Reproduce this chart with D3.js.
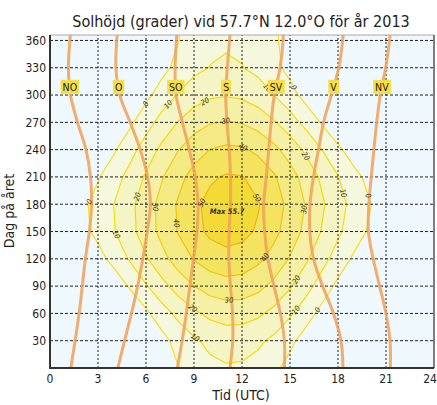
<!DOCTYPE html>
<html>
<head>
<meta charset="utf-8">
<script src="https://cdn.jsdelivr.net/npm/d3@7"></script>
<style>
  body { margin: 0; background: #fff; }
  text { font-family: "DejaVu Sans Condensed", "DejaVu Sans", sans-serif; }
</style>
</head>
<body>
<div id="chart"></div>
<script>
// sun elevation (degrees) sampled per hour (UTC) for every 30th day of the year
const gridDays = [0, 30, 60, 90, 120, 150, 180, 210, 240, 270, 300, 330, 360];
const gridHours = [0, 1, 2, 3, 4, 5, 6, 7, 8, 9, 10, 11, 12, 13, 14, 15, 16, 17, 18, 19, 20, 21, 22, 23, 24];
const elevation = [
  [-54.5, -50.5, -44.5, -37.2, -29.3, -21.3, -13.6, -6.5, -0.4, 4.4, 7.7, 9.1, 8.7, 6.3, 2.2, -3.4, -10.0, -17.5, -25.3, -33.3, -41.0, -47.8, -52.9, -55.3, -54.5],
  [-49.7, -46.5, -41.0, -34.1, -26.4, -18.4, -10.5, -3.2, 3.4, 8.6, 12.4, 14.2, 14.1, 11.9, 7.9, 2.3, -4.3, -11.8, -19.7, -27.7, -35.3, -42.1, -47.2, -49.9, -49.7],
  [-39.6, -36.8, -31.8, -25.3, -17.8, -9.8, -1.9, 5.7, 12.6, 18.2, 22.3, 24.3, 24.1, 21.7, 17.3, 11.4, 4.4, -3.3, -11.3, -19.2, -26.6, -32.9, -37.5, -39.9, -39.6],
  [-27.7, -24.9, -20.1, -13.9, -6.6, 1.2, 9.2, 17.0, 24.1, 30.0, 34.2, 36.2, 35.6, 32.6, 27.5, 21.0, 13.5, 5.6, -2.4, -10.0, -16.9, -22.5, -26.4, -28.2, -27.7],
  [-16.9, -14.2, -9.6, -3.6, 3.4, 11.1, 19.1, 27.0, 34.3, 40.6, 45.0, 46.9, 45.8, 42.1, 36.4, 29.3, 21.5, 13.5, 5.7, -1.6, -7.9, -12.9, -16.3, -17.7, -16.9],
  [-9.9, -7.3, -3.0, 2.7, 9.5, 17.0, 24.9, 32.9, 40.5, 47.0, 51.9, 54.0, 52.8, 48.8, 42.7, 35.3, 27.4, 19.4, 11.8, 4.7, -1.4, -6.1, -9.3, -10.6, -9.9],
  [-8.6, -6.2, -2.1, 3.4, 10.1, 17.5, 25.4, 33.4, 41.0, 47.8, 52.9, 55.4, 54.6, 50.7, 44.6, 37.3, 29.4, 21.4, 13.7, 6.7, 0.5, -4.3, -7.6, -9.0, -8.6],
  [-13.0, -10.6, -6.5, -0.8, 5.9, 13.4, 21.3, 29.3, 36.9, 43.5, 48.5, 51.0, 50.4, 46.8, 41.1, 34.0, 26.2, 18.2, 10.4, 3.2, -3.2, -8.3, -11.8, -13.4, -13.0],
  [-21.8, -19.1, -14.4, -8.3, -1.2, 6.5, 14.5, 22.4, 29.6, 35.7, 40.1, 42.0, 41.3, 37.9, 32.5, 25.7, 18.0, 10.0, 2.1, -5.3, -11.9, -17.2, -20.9, -22.4, -21.8],
  [-32.9, -29.4, -24.1, -17.4, -9.8, -1.9, 6.1, 13.6, 20.3, 25.7, 29.3, 30.6, 29.5, 26.2, 21.0, 14.4, 6.9, -1.0, -9.0, -16.6, -23.4, -28.9, -32.6, -34.0, -32.9],
  [-43.6, -39.4, -33.4, -26.2, -18.3, -10.3, -2.6, 4.6, 10.7, 15.5, 18.5, 19.4, 18.2, 14.9, 10.0, 3.7, -3.6, -11.4, -19.4, -27.2, -34.3, -40.1, -44.0, -45.2, -43.6],
  [-51.7, -47.3, -40.9, -33.5, -25.5, -17.6, -9.9, -3.0, 2.9, 7.5, 10.3, 11.3, 10.3, 7.4, 2.8, -3.1, -10.1, -17.7, -25.7, -33.6, -41.0, -47.4, -51.7, -53.3, -51.7],
  [-54.6, -50.6, -45.2, -37.0, -29.1, -21.1, -13.5, -6.4, -0.4, 4.4, 7.5, 8.9, 8.3, 5.8, 1.6, -4.0, -10.7, -18.1, -26.0, -34.0, -41.6, -48.4, -53.4, -55.6, -54.6]
];
const levels = [0, 10, 20, 30, 40, 50];

// hour at which the sun stands in each compass direction, per day
const azDays = [0, 30, 60, 90, 120, 150, 180, 210, 240, 270, 300, 330, 360, 366];
const azNames = ['NO', 'O', 'SO', 'S', 'SV', 'V', 'NV'];
const azHours = [
  [1.30, 1.57, 1.82, 2.02, 2.21, 2.46, 2.60, 2.53, 2.25, 1.72, 1.28, 1.15, 1.24, 1.27],
  [4.24, 4.66, 5.09, 5.48, 5.80, 6.08, 6.27, 6.10, 5.64, 5.01, 4.36, 4.12, 4.17, 4.20],
  [7.96, 8.26, 8.52, 8.74, 8.97, 9.18, 9.25, 9.08, 8.70, 8.28, 7.88, 7.82, 7.90, 7.93],
  [11.25, 11.42, 11.41, 11.28, 11.18, 11.20, 11.28, 11.28, 11.20, 11.06, 10.98, 11.08, 11.22, 11.25],
  [14.65, 14.65, 14.40, 14.00, 13.62, 13.42, 13.35, 13.52, 13.67, 13.82, 14.02, 14.38, 14.57, 14.58],
  [18.31, 18.19, 17.72, 17.04, 16.47, 16.24, 16.25, 16.47, 16.78, 17.10, 17.58, 18.05, 18.29, 18.32],
  [21.27, 21.25, 21.00, 20.60, 20.20, 19.90, 19.93, 20.08, 20.24, 20.42, 20.64, 20.98, 21.22, 21.25]
];
const azLabelDay = 309;

// contour labels: level and the approximate spot (hour, day) where it sits
const labelLevel = [0, 0, 20, 10, 30, 40, 10, 20, 30, 40, 50, 50, 10, 0, 20, 10, 0, 30, 40, 30, 20, 10, 20, 10, 0];
const labelHour = [5.94, 2.46, 5.5, 4.06, 6.56, 7.7, 7.5, 9.7, 11.0, 12.04, 9.54, 13.0, 13.4, 15.2, 15.9, 18.3, 20.0, 15.9, 13.5, 11.2, 8.85, 9.06, 15.6, 15.5, 16.9];
const labelDay = [291, 183, 188, 146, 177, 159, 288, 292, 270, 242, 181, 188, 305, 308, 232, 192, 190, 174, 121, 71, 64, 33, 95, 62, 62];
const maxValue = 55.7, maxHour = 11.07, maxDay = 172;

const xTicks = [0, 3, 6, 9, 12, 15, 18, 21, 24];
const yTicks = [30, 60, 90, 120, 150, 180, 210, 240, 270, 300, 330, 360];

const W = 437, H = 405;
const bandColors = ['#f6f8de', '#f5f4c4', '#f5f0a6', '#f4ea84', '#f4e35e', '#f3da36'];
const lineColors = ['#f5e11a', '#f3de10', '#f2d90c', '#f0cf10', '#efc214', '#eeb51a'];

const x = d3.scaleLinear().domain([0, 24]).range([50, 434]);
const y = d3.scaleLinear().domain([0, 366]).range([368, 35]);

const svg = d3.select('#chart').append('svg')
    .attr('width', W)
    .attr('height', H);

svg.append('defs').append('clipPath')
    .attr('id', 'plot')
    .append('rect')
    .attr('x', x(0)).attr('y', y(366))
    .attr('width', x(24) - x(0)).attr('height', y(0) - y(366));

const plot = svg.append('g').attr('clip-path', 'url(#plot)');

plot.append('rect')
    .attr('x', x(0)).attr('y', y(366))
    .attr('width', x(24) - x(0)).attr('height', y(0) - y(366))
    .attr('fill', '#eff8fc');

// repeat first/last rows so the contours run straight out of the plot
const rows = [elevation[0], ...elevation, elevation[elevation.length - 1]];
const nx = gridHours.length, ny = rows.length;
const dayStep = gridDays[1] - gridDays[0];
const toPx = (cx, cy) => [x(gridHours[0] + (cx - 0.5)), y(gridDays[0] + (cy - 1.5) * dayStep)];

const contours = d3.contours().size([nx, ny]).thresholds(levels)(rows.flat());

const proj = d3.geoTransform({
    point: function(px, py) {
        const p = toPx(px, py);
        this.stream.point(p[0], p[1]);
    }
});
const path = d3.geoPath(proj);

plot.selectAll('path.band')
    .data(contours)
    .enter()
    .append('path')
    .attr('class', 'band')
    .attr('d', path)
    .attr('fill', (d, i) => bandColors[i]);

plot.selectAll('path.iso')
    .data(contours)
    .enter()
    .append('path')
    .attr('class', 'iso')
    .attr('d', path)
    .attr('fill', 'none')
    .attr('stroke', (d, i) => lineColors[i])
    .attr('stroke-width', 1.2);

// grid
plot.selectAll('line.hgrid')
    .data(yTicks)
    .enter()
    .append('line')
    .attr('x1', x(0)).attr('x2', x(24))
    .attr('y1', d => y(d)).attr('y2', d => y(d))
    .attr('stroke', '#222')
    .attr('stroke-width', 1)
    .attr('stroke-dasharray', '3,2');

plot.selectAll('line.vgrid')
    .data(xTicks.slice(1, -1))
    .enter()
    .append('line')
    .attr('x1', d => x(d)).attr('x2', d => x(d))
    .attr('y1', y(0)).attr('y2', y(366))
    .attr('stroke', '#222')
    .attr('stroke-width', 1)
    .attr('stroke-dasharray', '2,2');

// direction lines
const azLine = d3.line()
    .x(d => x(d[0]))
    .y(d => y(d[1]))
    .curve(d3.curveCatmullRom);

plot.selectAll('path.az')
    .data(azHours)
    .enter()
    .append('path')
    .attr('d', h => azLine(h.map((v, i) => [v, azDays[i]])))
    .attr('fill', 'none')
    .attr('stroke', '#f0a058')
    .attr('stroke-opacity', 0.85)
    .attr('stroke-width', 3);

// contour labels, snapped onto their contour and turned along it
const segs = contours.map(c => {
    const out = [];
    c.coordinates.forEach(poly => poly.forEach(ring => {
        const pts = ring.map(p => toPx(p[0], p[1]));
        for (let k = 1; k < pts.length; k++) out.push([pts[k - 1], pts[k]]);
    }));
    return out;
});

function snap(level, hx, dy) {
    const px = x(hx), py = y(dy);
    let best = null, bestD = Infinity;
    segs[levels.indexOf(level)].forEach(([a, b]) => {
        const vx = b[0] - a[0], vy = b[1] - a[1];
        const len2 = vx * vx + vy * vy || 1;
        let t = ((px - a[0]) * vx + (py - a[1]) * vy) / len2;
        t = Math.max(0, Math.min(1, t));
        const qx = a[0] + t * vx, qy = a[1] + t * vy;
        const dd = (qx - px) ** 2 + (qy - py) ** 2;
        if (dd < bestD) { bestD = dd; best = {x: qx, y: qy, vx, vy}; }
    });
    let ang = Math.atan2(best.vy, best.vx) * 180 / Math.PI;
    if (ang > 90) ang -= 180;
    if (ang <= -90) ang += 180;
    return {x: best.x, y: best.y, a: ang};
}

const labels = labelLevel.map((lv, i) => Object.assign({lv}, snap(lv, labelHour[i], labelDay[i])));

plot.selectAll('text.clab')
    .data(labels)
    .enter()
    .append('text')
    .attr('transform', d => `translate(${d.x},${d.y}) rotate(${d.a})`)
    .attr('text-anchor', 'middle')
    .attr('dy', '0.35em')
    .style('font-size', '7.5px')
    .style('font-style', 'italic')
    .attr('fill', '#333')
    .text(d => d.lv);

plot.append('text')
    .attr('x', x(maxHour)).attr('y', y(maxDay))
    .attr('text-anchor', 'middle')
    .attr('dy', '0.35em')
    .style('font-size', '7.5px')
    .style('font-style', 'italic')
    .style('font-weight', '600')
    .attr('fill', '#333')
    .text('Max ' + maxValue);

// direction labels
const azLab = svg.selectAll('g.azlab')
    .data(azNames)
    .enter()
    .append('g')
    .attr('transform', (d, i) => {
        const hx = d3.scaleLinear().domain(azDays).range(azHours[i])(azLabelDay);
        return `translate(${x(hx)},${y(azLabelDay)})`;
    });

azLab.append('text')
    .attr('text-anchor', 'middle')
    .attr('dy', '0.36em')
    .style('font-size', '10.5px')
    .attr('fill', '#222')
    .text(d => d);

azLab.each(function() {
    const g = d3.select(this);
    const bb = g.select('text').node().getBBox();
    g.insert('rect', 'text')
        .attr('x', bb.x - 2).attr('y', -7)
        .attr('width', bb.width + 4).attr('height', 14)
        .attr('fill', '#f7de48');
});

// frame and axes
svg.append('line')
    .attr('x1', x(0)).attr('x2', x(24)).attr('y1', y(366)).attr('y2', y(366))
    .attr('stroke', '#aaa').attr('stroke-width', 1);
svg.append('line')
    .attr('x1', x(24)).attr('x2', x(24)).attr('y1', y(366)).attr('y2', y(0))
    .attr('stroke', '#555').attr('stroke-width', 1.5);
svg.append('line')
    .attr('x1', x(0)).attr('x2', x(0)).attr('y1', y(366)).attr('y2', y(0) + 1)
    .attr('stroke', '#333').attr('stroke-width', 2);
svg.append('line')
    .attr('x1', x(0) - 1).attr('x2', x(24)).attr('y1', y(0)).attr('y2', y(0))
    .attr('stroke', '#333').attr('stroke-width', 2);

svg.selectAll('text.ytick')
    .data(yTicks)
    .enter()
    .append('text')
    .attr('x', 46)
    .attr('y', d => y(d))
    .attr('dy', '0.36em')
    .attr('text-anchor', 'end')
    .style('font-size', '12px')
    .attr('fill', '#222')
    .text(d => d);

svg.selectAll('text.xtick')
    .data(xTicks)
    .enter()
    .append('text')
    .attr('x', d => Math.min(x(d), 430))
    .attr('y', 383)
    .attr('text-anchor', 'middle')
    .style('font-size', '12px')
    .attr('fill', '#222')
    .text(d => d);

svg.append('text')
    .attr('x', 241).attr('y', 27)
    .attr('text-anchor', 'middle')
    .style('font-size', '16px')
    .attr('fill', '#222')
    .text('Solhöjd (grader) vid 57.7°N 12.0°O för år 2013');

svg.append('text')
    .attr('x', 241).attr('y', 400)
    .attr('text-anchor', 'middle')
    .style('font-size', '14px')
    .attr('fill', '#222')
    .text('Tid (UTC)');

svg.append('text')
    .attr('transform', 'translate(14,211) rotate(-90)')
    .attr('text-anchor', 'middle')
    .style('font-size', '14px')
    .attr('fill', '#222')
    .text('Dag på året');
</script>
</body>
</html>
